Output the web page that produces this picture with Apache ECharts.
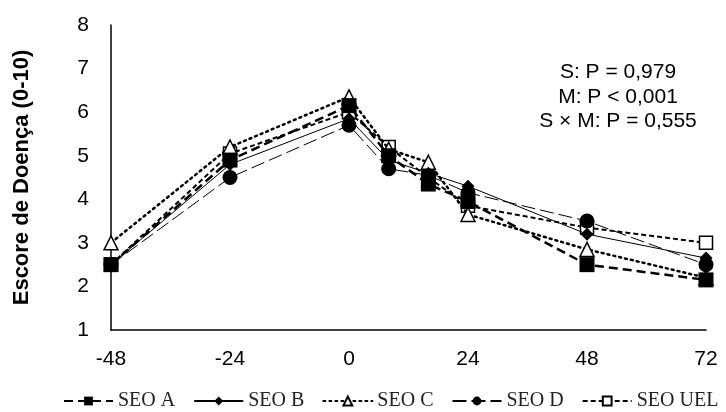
<!DOCTYPE html>
<html>
<head>
<meta charset="utf-8">
<script src="https://cdn.jsdelivr.net/npm/echarts@6/dist/echarts.min.js"></script>
<style>
  html, body { margin: 0; padding: 0; background: #fff; }
  #chart { width: 726px; height: 412px; }
</style>
</head>
<body>
<div id="chart"></div>
<script>
// Hours relative to the reference time
const hours = [-48, -24, 0, 8, 16, 24, 48, 72];
const xTicks = [-48, -24, 0, 24, 48, 72];

// Disease score (0-10) per treatment
const seoA   = [2.5, 4.9, 6.15, 5.0, 4.35, 3.95, 2.5, 2.15];
const seoB   = [2.5, 4.8, 5.85, 4.9, 4.6, 4.3, 3.2, 2.65];
const seoC   = [3.0, 5.2, 6.35, 5.15, 4.85, 3.65, 2.85, 2.2];
const seoD   = [2.5, 4.5, 5.7, 4.7, 4.55, 4.15, 3.5, 2.5];
const seoUEL = [2.5, 5.05, 6.0, 5.2, 4.5, 3.85, 3.35, 3.0];

const statsText = ['S: P = 0,979', 'M: P < 0,001', 'S \u00d7 M: P = 0,555'];

const pair = (vals) => hours.map((h, i) => [h, vals[i]]);

function mk(name, vals, symbol, size, filled, line, z) {
  return {
    name: name,
    type: 'line',
    data: pair(vals),
    symbol: symbol,
    symbolSize: size,
    z: z,
    itemStyle: filled
      ? { color: '#000', borderColor: '#000', borderWidth: 0 }
      : { color: '#fff', borderColor: '#000', borderWidth: 1.5 },
    lineStyle: Object.assign({ color: '#000' }, line),
    emphasis: { disabled: true },
    animation: false
  };
}

const sans = 'Liberation Sans, Arial, sans-serif';
const chart = echarts.init(document.getElementById('chart'), null, { renderer: 'canvas' });

chart.setOption({
  backgroundColor: '#fff',
  animation: false,
  grid: { left: 111, right: 20, top: 25, bottom: 82, containLabel: false },
  xAxis: {
    type: 'value',
    min: -48, max: 72, interval: 24,
    axisLine: { onZero: false, lineStyle: { color: '#000', width: 1.5 } },
    axisTick: { show: false },
    splitLine: { show: false },
    axisLabel: {
      color: '#000', fontSize: 21, fontFamily: sans,
      margin: 19,
      formatter: (v) => xTicks.includes(v) ? String(v) : ''
    }
  },
  yAxis: {
    type: 'value',
    min: 1, max: 8, interval: 1,
    name: 'Escore de Doença (0-10)',
    nameLocation: 'middle',
    nameGap: 78,
    nameTextStyle: { color: '#000', fontSize: 22, fontWeight: 'bold', fontFamily: sans },
    axisLine: { show: true, onZero: false, lineStyle: { color: '#000', width: 1.5 } },
    axisTick: { show: false },
    splitLine: { show: false },
    axisLabel: { color: '#000', fontSize: 21, fontFamily: sans, margin: 22 }
  },
  legend: {
    top: 391,
    left: 63,
    width: 680,
    padding: 0,
    itemWidth: 49,
    itemHeight: 11,
    itemGap: 18,
    textStyle: { color: '#222', fontSize: 20, fontFamily: 'Liberation Serif, Times New Roman, serif' },
    data: ['SEO A', 'SEO B', 'SEO C', 'SEO D', 'SEO UEL']
  },
  graphic: [{
    type: 'text',
    x: 618,
    y: 60,
    style: {
      text: statsText.join('\n'),
      fill: '#000',
      font: '21px "Liberation Sans", Arial, sans-serif',
      align: 'center',
      lineHeight: 24.5
    }
  }],
  series: [
    mk('SEO UEL', seoUEL, 'rect', 13, false, { width: 2, type: [5, 3] }, 2),
    mk('SEO D', seoD, 'circle', 15, true, { width: 1, type: [14, 5] }, 3),
    mk('SEO C', seoC, 'triangle', 14, false, { width: 2.5, type: [2, 4], cap: 'round' }, 4),
    mk('SEO B', seoB, 'diamond', 13, true, { width: 1 }, 5),
    mk('SEO A', seoA, 'rect', 15, true, { width: 2.5, type: [9, 5] }, 6)
  ]
});
</script>
</body>
</html>
